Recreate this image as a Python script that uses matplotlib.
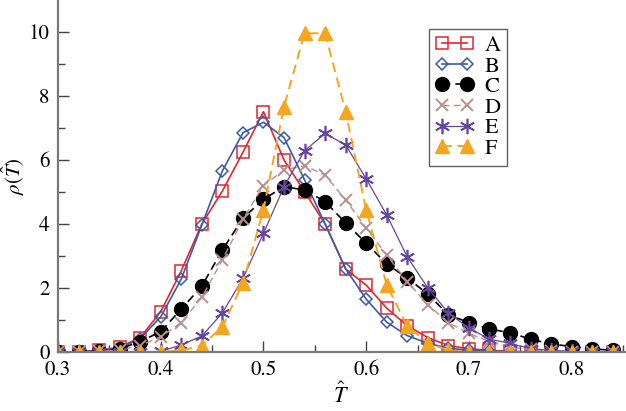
import matplotlib
matplotlib.use('Agg')
import matplotlib.pyplot as plt
import numpy as np

plt.rcParams['font.family'] = ['STIXGeneral', 'Liberation Serif', 'DejaVu Serif']
plt.rcParams['mathtext.fontset'] = 'stix'

# temperature grid
T = [0.30, 0.32, 0.34, 0.36, 0.38, 0.40, 0.42, 0.44, 0.46, 0.48, 0.50, 0.52, 0.54, 0.56,
     0.58, 0.60, 0.62, 0.64, 0.66, 0.68, 0.70, 0.72, 0.74, 0.76, 0.78, 0.80, 0.82, 0.84]

rho_A = [0.0, 0.0, 0.05, 0.15, 0.45, 1.26, 2.54, 4.0, 5.03, 6.24, 7.51, 6.0, 5.01, 4.0,
         2.59, 2.09, 1.37, 0.82, 0.45, 0.2, 0.1, 0.05, 0.02, 0.0, 0.0, 0.0, 0.0, 0.0]
rho_B = [0.0, 0.0, 0.03, 0.12, 0.42, 1.1, 2.28, 3.97, 5.66, 6.85, 7.18, 6.7, 5.38, 4.0,
         2.6, 1.65, 0.93, 0.51, 0.27, 0.12, 0.05, 0.02, 0.0, 0.0, 0.0, 0.0, 0.0, 0.0]
rho_C = [0.0, 0.0, 0.03, 0.1, 0.32, 0.64, 1.34, 2.06, 3.19, 4.18, 4.77, 5.17, 5.06, 4.7,
         4.03, 3.4, 2.75, 2.31, 1.81, 1.16, 0.92, 0.72, 0.6, 0.4, 0.25, 0.17, 0.1, 0.05]
rho_D = [0.0, 0.0, 0.02, 0.06, 0.2, 0.48, 0.92, 1.71, 2.88, 4.15, 5.2, 5.69, 5.82, 5.53,
         4.75, 3.87, 3.03, 2.2, 1.47, 0.92, 0.58, 0.32, 0.15, 0.08, 0.03, 0.0, 0.0, 0.0]
rho_E = [0.0, 0.0, 0.0, 0.0, 0.0, 0.02, 0.22, 0.5, 1.22, 2.3, 3.71, 5.17, 6.29, 6.83,
         6.47, 5.41, 4.28, 2.97, 2.0, 1.22, 0.75, 0.4, 0.27, 0.1, 0.05, 0.02, 0.0, 0.0]
rho_F = [0.0, 0.0, 0.0, 0.0, 0.0, 0.0, 0.05, 0.2, 0.79, 2.15, 4.44, 7.67, 9.96, 9.96,
         7.51, 4.44, 2.09, 0.81, 0.28, 0.05, 0.0, 0.0, 0.0, 0.0, 0.0, 0.0, 0.0, 0.0]

labels = ['A', 'B', 'C', 'D', 'E', 'F']

fig = plt.figure(figsize=(6.26, 4.11), dpi=100)
ax = fig.add_axes([0.0927, 0.1436, 0.905, 0.8564])

ax.plot(T, rho_A, color='#e3262d', marker='s', ms=8, mfc='none', mew=1.1, lw=1.2, label=labels[0])
ax.plot(T, rho_B, color='#3b5ba8', marker='D', ms=6.5, mfc='none', mew=1.1, lw=1.2, label=labels[1])
ax.plot(T, rho_C, color='black', marker='o', ms=10, lw=1.2, ls=(0, (5, 3)), label=labels[2])
ax.plot(T, rho_D, color='#b9908f', marker='x', ms=9, mew=1.4, lw=1.0, ls=(0, (5, 3)), label=labels[3])
ax.plot(T, rho_E, color='#6446a0', marker=(6, 2, 0), ms=11, mew=1.2, lw=0.9, label=labels[4])
ax.plot(T, rho_F, color='#f5a51e', marker='^', ms=10, lw=1.4, ls=(0, (5, 3)), label=labels[5])

ax.set_xlim(0.3, 0.8515)
ax.set_ylim(0, 11)
ax.set_xticks([0.3, 0.4, 0.5, 0.6, 0.7, 0.8])
ax.set_xticks(np.arange(0.35, 0.86, 0.1), minor=True)
ax.set_yticks([0, 2, 4, 6, 8, 10])
ax.set_yticks([1, 3, 5, 7, 9], minor=True)
ax.set_xticklabels(['0.3', '0.4', '0.5', '0.6', '0.7', '0.8'])

for side in ['top', 'right']:
    ax.spines[side].set_visible(False)
for side in ['left', 'bottom']:
    ax.spines[side].set_color('#7a7a7a')
    ax.spines[side].set_linewidth(1.6)

ax.tick_params(which='both', direction='in', color='#444444', labelsize=15, pad=6)
ax.tick_params(which='major', length=8, width=1.0)
ax.tick_params(which='minor', length=5, width=1.0)

ax.set_xlabel(r'$\hat{T}$', fontsize=16, labelpad=2)
ax.set_ylabel(r'$\rho(\hat{T})$', fontsize=15)
ax.yaxis.set_label_coords(-0.054, 0.5)

leg = ax.legend(loc='upper left', bbox_to_anchor=(0.655, 0.918), fontsize=16,
                numpoints=2, handlelength=1.7, fancybox=False, framealpha=1,
                edgecolor='#606060', borderpad=0.3, labelspacing=0.0,
                handletextpad=0.5, borderaxespad=0)
leg.get_frame().set_linewidth(1.0)

plt.savefig('out.png', dpi=100)
